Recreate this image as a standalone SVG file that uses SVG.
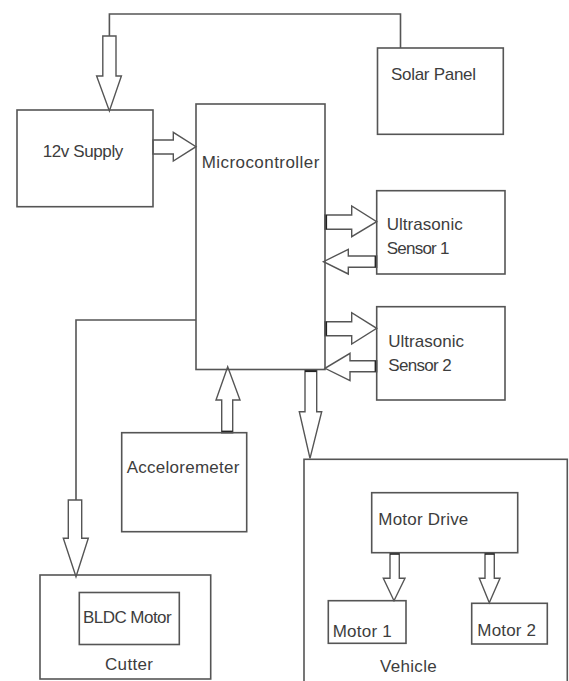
<svg xmlns="http://www.w3.org/2000/svg" width="569" height="681" viewBox="0 0 569 681">
<style>
  .box { fill: none; stroke: #555; stroke-width: 1.6; }
  .line { fill: none; stroke: #555; stroke-width: 1.6; }
  .arrow { fill: #fff; stroke: #555; stroke-width: 1.4; stroke-linejoin: miter; }
  .base { stroke: #222; stroke-width: 2.2; }
  .lbl { font-family: "Liberation Sans", Arial, sans-serif; font-size: 17px; fill: #3d3d3d; }
</style>
<rect width="569" height="681" fill="#fff"/>

<g id="connectors">
  <!-- solar to 12v line -->
  <polyline class="line" points="400.5,48 400.5,14 109.4,14 109.4,36"/>
  <polygon class="arrow" points="102.8,36 116,36 116,76 121.4,76 109.4,111 96.6,76 102.8,76"/>
  <!-- 12v to micro -->
  <polygon class="arrow" points="153,140 173.3,140 173.3,132.3 196,146.7 173.3,161 173.3,154 153,154"/>
  <!-- micro to sensor1 -->
  <polygon class="arrow" points="325,215 351.7,215 351.7,206 376.7,221.7 351.7,236.7 351.7,229.3 325,229.3"/>
  <line class="base" x1="326" y1="215" x2="326" y2="229.3"/>
  <!-- sensor1 to micro -->
  <polygon class="arrow" points="376.7,256 348.3,256 348.3,249.3 323.5,261.7 348.3,274 348.3,267.3 376.7,267.3"/>
  <line class="base" x1="375.7" y1="256" x2="375.7" y2="267.3"/>
  <!-- micro to sensor2 -->
  <polygon class="arrow" points="325,321.7 351.7,321.7 351.7,312.7 376.7,328.3 351.7,344 351.7,335.7 325,335.7"/>
  <line class="base" x1="326" y1="321.7" x2="326" y2="335.7"/>
  <!-- sensor2 to micro -->
  <polygon class="arrow" points="376.7,360.7 350,360.7 350,353.3 325,368.3 350,380.7 350,371.7 376.7,371.7"/>
  <line class="base" x1="375.7" y1="360.7" x2="375.7" y2="371.7"/>
  <!-- micro to cutter -->
  <polyline class="line" points="196,320 76,320 76,500"/>
  <polygon class="arrow" points="68.3,500 81.7,500 81.7,538.3 88.3,538.3 76,576.7 63.3,538.3 68.3,538.3"/>
  <!-- accelerometer to micro -->
  <polygon class="arrow" points="221.7,432.7 221.7,400 216,400 227.7,366.7 240,400 232.7,400 232.7,432.7"/>
  <line class="base" x1="221.7" y1="431.7" x2="232.7" y2="431.7"/>
  <!-- micro to vehicle -->
  <polygon class="arrow" points="305,370 316.7,370 316.7,411.7 321.7,411.7 310,458.3 299.3,411.7 305,411.7"/>
  <line class="base" x1="305" y1="371" x2="316.7" y2="371"/>
  <!-- motor drive to motor 1 -->
  <polygon class="arrow" points="390,552.7 399.3,552.7 399.3,578.3 405,578.3 394,600.7 383.3,578.3 390,578.3"/>
  <line class="base" x1="390" y1="553.7" x2="399.3" y2="553.7"/>
  <!-- motor drive to motor 2 -->
  <polygon class="arrow" points="485,552.7 494.3,552.7 494.3,578.3 500,578.3 489.3,602.7 479.3,578.3 485,578.3"/>
  <line class="base" x1="485" y1="553.7" x2="494.3" y2="553.7"/>
</g>

<g id="solar-panel">
  <rect class="box" x="377.5" y="48" width="125.8" height="86.3"/>
  <text class="lbl" x="391" y="80" textLength="85">Solar Panel</text>
</g>

<g id="supply-12v">
  <rect class="box" x="17" y="110" width="136" height="96.7"/>
  <text class="lbl" x="42.7" y="156.7" textLength="80.6">12v Supply</text>
</g>

<g id="microcontroller">
  <rect class="box" x="196" y="104" width="129" height="265.5"/>
  <text class="lbl" x="201.7" y="168.3" textLength="117.6">Microcontroller</text>
</g>

<g id="ultrasonic-sensor-1">
  <rect class="box" x="376.7" y="190.7" width="128.3" height="83.3"/>
  <text class="lbl" x="386.7" y="230" textLength="76">Ultrasonic</text>
  <text class="lbl" x="386.7" y="254" textLength="62.7">Sensor 1</text>
</g>

<g id="ultrasonic-sensor-2">
  <rect class="box" x="376.7" y="306.7" width="128.3" height="93.3"/>
  <text class="lbl" x="388.3" y="346.7" textLength="75.7">Ultrasonic</text>
  <text class="lbl" x="388.3" y="370.7" textLength="63.3">Sensor 2</text>
</g>

<g id="accelerometer">
  <rect class="box" x="121.7" y="432.7" width="125" height="99"/>
  <text class="lbl" x="126.7" y="473.3" textLength="112.7">Acceloremeter</text>
</g>

<g id="cutter">
  <rect class="box" x="40" y="575" width="170.7" height="104"/>
  <text class="lbl" x="105" y="670" textLength="48">Cutter</text>
</g>

<g id="bldc-motor">
  <rect class="box" x="79.3" y="592.5" width="100" height="52"/>
  <text class="lbl" x="83" y="623.3" textLength="88.7">BLDC Motor</text>
</g>

<g id="vehicle">
  <rect class="box" x="304" y="459.3" width="263.3" height="230"/>
  <text class="lbl" x="380" y="671.7" textLength="56.7">Vehicle</text>
</g>

<g id="motor-drive">
  <rect class="box" x="371.7" y="492.7" width="146" height="60"/>
  <text class="lbl" x="378.3" y="525" textLength="90">Motor Drive</text>
</g>

<g id="motor-1">
  <rect class="box" x="328.3" y="600.7" width="77.7" height="42.6"/>
  <text class="lbl" x="332.7" y="636.7" textLength="59">Motor 1</text>
</g>

<g id="motor-2">
  <rect class="box" x="471.7" y="603.3" width="75.6" height="40.7"/>
  <text class="lbl" x="477.3" y="636" textLength="58.7">Motor 2</text>
</g>
</svg>
